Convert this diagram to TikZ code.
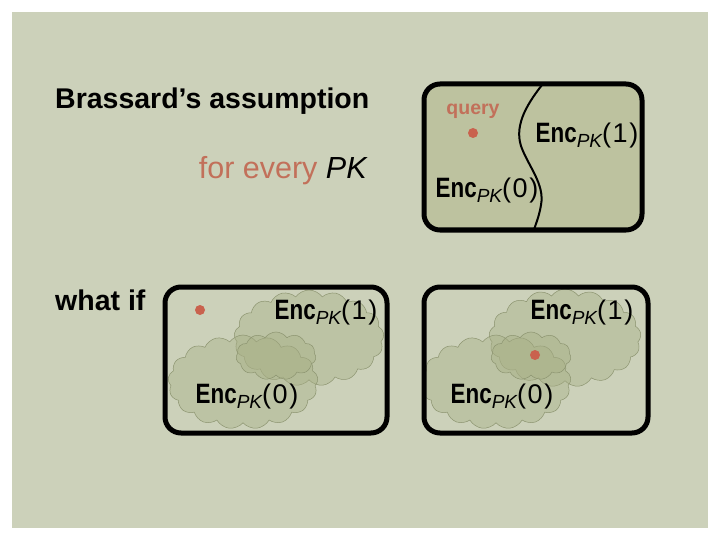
\documentclass[tikz,border=0pt]{standalone}
\usepackage{fontspec}
\setmainfont{Liberation Sans}
\newfontfamily\monof[LetterSpace=6]{Liberation Sans}
\newfontfamily\encf[FakeStretch=0.8]{Liberation Sans}
\usetikzlibrary{shapes.symbols}
\definecolor{panel}{HTML}{CCD1BA}
\definecolor{boxfill}{HTML}{BDC29F}
\definecolor{salmon}{HTML}{C2705A}
\definecolor{dotc}{HTML}{C9624E}
\definecolor{cloudfill}{HTML}{A8B086}
\definecolor{cloudline}{HTML}{8C9470}
\newcommand{\encx}[1]{{\encf\bfseries\fontsize{28}{30}\selectfont Enc}\raisebox{-5pt}{\fontsize{19}{20}\selectfont\itshape PK}{\monof\fontsize{27}{30}\selectfont(#1)}}
\tikzset{
  frame/.style={draw=black, line width=5pt, rounded corners=16pt},
  enc/.style={inner sep=0pt, anchor=center},
  qdot/.style={circle, fill=dotc, minimum size=10pt, inner sep=0pt},
  puff/.style={cloud, cloud puffs=17, cloud puff arc=110, aspect=1.6, draw=cloudline, line width=0.5pt, fill=cloudfill, fill opacity=0.42, inner sep=0pt},
  title/.style={font=\fontsize{28.5}{32}\selectfont\bfseries, inner sep=0pt}
}
\begin{document}
\begin{tikzpicture}[x=1pt,y=-1pt]
\useasboundingbox (0,0) rectangle (720,540);
\fill[white] (0,0) rectangle (720,540);
\fill[panel] (12,12) rectangle (708,528);

% texts on the left
\node[title, anchor=west] (brass) at (55,101) {Brassard’s assumption};
\node[font=\fontsize{30.5}{34}\selectfont, inner sep=0pt, anchor=east] (every) at (368,171) {\textcolor{salmon}{for every} \textit{PK}};
\node[title, anchor=west] (whatif) at (55,300) {what if};

% top-right box
\path[fill=boxfill] (424,84) [rounded corners=16pt] rectangle (642,230);
\begin{scope}
\clip (424,84) rectangle (642,230);
\draw[line width=2pt] (546,80) .. controls (528,102) and (514,124) .. (521,146)
  .. controls (528,166) and (545,184) .. (541,205)
  .. controls (539,218) and (534,228) .. (532,236);
\end{scope}
\draw[frame] (424,84) rectangle (642,230);
\node[font=\fontsize{19.5}{22}\selectfont\bfseries, text=salmon, inner sep=0pt] (query) at (473,111) {query};
\node[qdot] (d1) at (473,133) {};
\node[enc] (e1a) at (587,136) {\encx{1}};
\node[enc] (e0a) at (487,191) {\encx{0}};

% bottom-left box
\begin{scope}
\clip[rounded corners=16pt] (165,287) rectangle (387,433);
\node[puff, minimum width=150pt, minimum height=96pt] (c1b) at (309,338) {};
\node[puff, minimum width=150pt, minimum height=94pt] (c2b) at (243,382) {};
\node[puff, minimum width=80pt, minimum height=48pt, cloud puffs=11] (c3b) at (276,356) {};
\end{scope}
\draw[frame] (165,287) rectangle (387,433);
\node[qdot] (d2) at (200,310) {};
\node[enc] (e1b) at (326,313) {\encx{1}};
\node[enc] (e0b) at (247,397) {\encx{0}};

% bottom-right box
\begin{scope}
\clip[rounded corners=16pt] (424,287) rectangle (648,433);
\node[puff, minimum width=152pt, minimum height=98pt] (c1c) at (565,338) {};
\node[puff, minimum width=150pt, minimum height=94pt] (c2c) at (496,382) {};
\node[puff, minimum width=80pt, minimum height=48pt, cloud puffs=11] (c3c) at (531,356) {};
\end{scope}
\draw[frame] (424,287) rectangle (648,433);
\node[qdot] (d3) at (535,355) {};
\node[enc] (e1c) at (582,313) {\encx{1}};
\node[enc] (e0c) at (502,397) {\encx{0}};
\end{tikzpicture}
\end{document}
